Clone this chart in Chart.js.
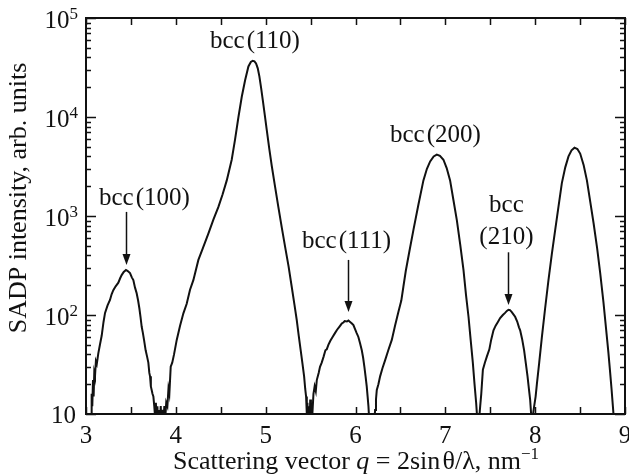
<!DOCTYPE html>
<html>
<head>
<meta charset="utf-8">
<script src="https://cdn.jsdelivr.net/npm/chart.js@4.4.1/dist/chart.umd.min.js"></script>
<style>
  html, body { margin: 0; padding: 0; background: #fff; }
  canvas { display: block; }
</style>
</head>
<body>
<canvas id="grafico" width="629" height="475"></canvas>
<script>
// scattering vector q, nm^-1
const qValues = [
  3.056, 3.063, 3.070, 3.078, 3.085, 3.092, 3.100, 3.110, 3.120, 3.137,
  3.155, 3.175, 3.195, 3.212, 3.240, 3.267, 3.285, 3.304, 3.330, 3.360,
  3.380, 3.397, 3.420, 3.445, 3.465, 3.490, 3.510, 3.527, 3.545, 3.564,
  3.580, 3.594, 3.607, 3.620, 3.633, 3.646, 3.664, 3.680, 3.694, 3.705,
  3.713, 3.722, 3.731, 3.740, 3.750, 3.760, 3.770, 3.778, 3.786, 3.795,
  3.804, 3.812, 3.822, 3.832, 3.842, 3.852, 3.862, 3.872, 3.882, 3.893,
  3.906, 3.918, 3.928, 3.943, 3.960, 3.980, 4.010, 4.047, 4.084, 4.121,
  4.158, 4.195, 4.251, 4.300, 4.362, 4.420, 4.474, 4.520, 4.567, 4.622,
  4.659, 4.697, 4.734, 4.771, 4.808, 4.835, 4.856, 4.875, 4.893, 4.912,
  4.930, 4.950, 4.968, 4.990, 5.012, 5.040, 5.068, 5.100, 5.141, 5.180,
  5.216, 5.255, 5.290, 5.320, 5.346, 5.368, 5.390, 5.410, 5.428, 5.440,
  5.450, 5.458, 5.465, 5.472, 5.480, 5.488, 5.496, 5.504, 5.512, 5.520,
  5.532, 5.545, 5.558, 5.569, 5.590, 5.605, 5.624, 5.645, 5.665, 5.680,
  5.698, 5.720, 5.745, 5.773, 5.795, 5.820, 5.847, 5.865, 5.880, 5.905,
  5.921, 5.940, 5.960, 5.977, 5.995, 6.012, 6.032, 6.050, 6.070, 6.085,
  6.099, 6.112, 6.125, 6.135, 6.144, 6.152, 6.165, 6.180, 6.195, 6.208,
  6.218, 6.228, 6.237, 6.255, 6.274, 6.300, 6.330, 6.365, 6.404, 6.440,
  6.478, 6.510, 6.533, 6.560, 6.600, 6.645, 6.700, 6.756, 6.795, 6.831,
  6.870, 6.905, 6.940, 6.979, 7.015, 7.053, 7.090, 7.128, 7.165, 7.202,
  7.230, 7.258, 7.282, 7.306, 7.325, 7.343, 7.355, 7.372, 7.388, 7.400,
  7.418, 7.440, 7.462, 7.490, 7.510, 7.536, 7.560, 7.585, 7.610, 7.640,
  7.665, 7.685, 7.703, 7.720, 7.740, 7.760, 7.777, 7.800, 7.820, 7.833,
  7.855, 7.877, 7.895, 7.915, 7.930, 7.944, 7.955, 7.970, 7.989, 8.005,
  8.019, 8.045, 8.075, 8.110, 8.148, 8.185, 8.223, 8.260, 8.297, 8.335,
  8.371, 8.405, 8.438, 8.470, 8.501, 8.540, 8.576, 8.613, 8.650, 8.690,
  8.724, 8.760, 8.791, 8.815, 8.835, 8.850, 8.865, 8.880
];

// SADP intensity, arb. units
const intensity = [
  9, 16, 12, 22, 15, 26, 24, 34, 32, 41,
  50, 62, 85, 105, 125, 142, 162, 178, 195, 212,
  235, 253, 272, 285, 278, 265, 240, 225, 190, 166,
  140, 117, 95, 76, 66, 56, 44, 38, 33, 26,
  24, 19, 17.5, 16, 15, 12, 9, 13, 8, 12,
  7, 11, 8, 12, 7, 11, 8, 12, 9, 13,
  12, 18, 16, 30, 33, 40, 56, 78, 104, 130,
  180, 225, 360, 470, 665, 930, 1235, 1650, 2290, 3700,
  5900, 10000, 16000, 23500, 32400, 36000, 37000, 36500, 34700, 31000,
  25700, 19500, 14800, 10500, 7400, 4800, 3200, 2100, 1235, 760,
  490, 310, 193, 128, 89, 62, 44, 32, 24, 18,
  15, 10, 13, 8, 12, 7, 14, 9, 12, 10,
  16, 19, 17, 22, 26, 30, 33, 38, 44, 45,
  50, 55, 60, 66, 71, 76, 82, 84, 87, 86,
  88, 85, 82, 79, 72, 66, 60, 52, 44, 37,
  30, 24, 19, 15, 12, 9, 8, 8, 9, 8,
  11, 14, 17.5, 20, 24, 29, 35, 44, 56, 78,
  108, 140, 193, 280, 440, 725, 1300, 2290, 3000, 3560,
  4000, 4170, 4050, 3700, 3050, 2290, 1450, 910, 520, 285,
  160, 96, 56, 33, 20, 13, 9, 8, 12, 16,
  28, 33, 38, 45, 56, 70, 78, 85, 93, 100,
  105, 110, 113, 112, 107, 101, 96, 86, 75, 70,
  57, 44, 33, 24, 18, 14, 10, 9, 12, 15,
  20, 33, 60, 115, 225, 410, 725, 1250, 2150, 3100,
  4000, 4600, 4900, 4750, 4270, 3250, 2290, 1400, 850, 470,
  265, 135, 70, 42, 26, 18, 12, 8
];

// tick labels
const xTickValues = [3, 4, 5, 6, 7, 8, 9];
const xMinorTicks = [3.5, 4.5, 5.5, 6.5, 7.5, 8.5];
const yDecades = [1, 2, 3, 4, 5];

// peak labels: text lines, centre q, baseline intensity of each line
const peakLabels = [['bcc\u200a(100)'], ['bcc\u200a(110)'], ['bcc\u200a(111)'], ['bcc\u200a(200)'], ['bcc', '(210)']];
const peakLabelQ = [3.65, 4.88, 5.90, 6.89, 7.68];
const peakLabelI = [[1290], [49800], [480], [5600], [1100, 520]];

// arrows: q position, tail intensity, head intensity
const arrowQ = [3.445, 5.918, 7.70];
const arrowFrom = [1100, 360, 430];
const arrowTo = [320, 107, 126];

const FONT = '"Liberation Serif", "Times New Roman", serif';
const ink = '#111';

const ejes = {
  id: 'ejes',
  afterDraw(chart) {
    const { ctx, chartArea: a, scales: { x, y } } = chart;
    ctx.save();
    ctx.strokeStyle = ink;
    ctx.fillStyle = ink;

    // frame
    ctx.lineWidth = 2;
    ctx.strokeRect(a.left, a.top, a.right - a.left, a.bottom - a.top);

    // inward ticks on all four sides
    ctx.lineWidth = 1.5;
    ctx.beginPath();
    xTickValues.concat(xMinorTicks).forEach(v => {
      const px = Math.round(x.getPixelForValue(v)) + 0.5;
      ctx.moveTo(px, a.bottom); ctx.lineTo(px, a.bottom - 7);
      ctx.moveTo(px, a.top); ctx.lineTo(px, a.top + 7);
    });
    yDecades.forEach(n => {
      for (let m = 1; m <= 9; m++) {
        const v = m * Math.pow(10, n);
        if (v > 1e5) break;
        const py = Math.round(y.getPixelForValue(v)) + 0.5;
        const len = m === 1 ? 10 : 5;
        ctx.moveTo(a.left, py); ctx.lineTo(a.left + len, py);
        ctx.moveTo(a.right, py); ctx.lineTo(a.right - len, py);
      }
    });
    ctx.stroke();

    // x tick labels
    ctx.font = '25px ' + FONT;
    ctx.textAlign = 'center';
    ctx.textBaseline = 'alphabetic';
    xTickValues.forEach(v => ctx.fillText(String(v), x.getPixelForValue(v), a.bottom + 29));

    // y tick labels, 10^n
    const right = a.left - 8;
    yDecades.forEach(n => {
      const py = y.getPixelForValue(Math.pow(10, n));
      ctx.textAlign = 'left';
      if (n === 1) {
        ctx.font = '25px ' + FONT;
        const w = ctx.measureText('10').width;
        ctx.fillText('10', right - 2 - w, py + 9);
      } else {
        ctx.font = '17px ' + FONT;
        const ew = ctx.measureText(String(n)).width;
        ctx.font = '25px ' + FONT;
        const bw = ctx.measureText('10').width;
        ctx.fillText('10', right - ew - bw, py + 10);
        ctx.font = '17px ' + FONT;
        ctx.fillText(String(n), right - ew, py + 1);
      }
    });

    // x axis title with italic q and superscript
    const parts = [
      ['Scattering vector ', '26px ', 0],
      ['q', 'italic 26px ', 0],
      [' = 2sin\u200a\u03b8/\u03bb, nm', '26px ', 0],
      ['\u22121', '17px ', -10]
    ];
    let total = 0;
    parts.forEach(p => { ctx.font = p[1] + FONT; total += ctx.measureText(p[0]).width; });
    let cx = 356 - total / 2;
    parts.forEach(p => {
      ctx.font = p[1] + FONT;
      ctx.fillText(p[0], cx, 469 + p[2]);
      cx += ctx.measureText(p[0]).width;
    });

    // y axis title
    ctx.save();
    ctx.translate(26, 198);
    ctx.rotate(-Math.PI / 2);
    ctx.font = '26px ' + FONT;
    ctx.textAlign = 'center';
    ctx.fillText('SADP intensity, arb. units', 0, 0);
    ctx.restore();

    // peak labels
    ctx.font = '25px ' + FONT;
    ctx.textAlign = 'center';
    peakLabels.forEach((lines, i) => {
      lines.forEach((t, j) => ctx.fillText(t, x.getPixelForValue(peakLabelQ[i]), y.getPixelForValue(peakLabelI[i][j])));
    });

    // arrows
    ctx.lineWidth = 1.5;
    arrowQ.forEach((q, i) => {
      const px = Math.round(x.getPixelForValue(q)) + 0.5;
      const y0 = y.getPixelForValue(arrowFrom[i]);
      const y1 = y.getPixelForValue(arrowTo[i]);
      ctx.beginPath();
      ctx.moveTo(px, y0); ctx.lineTo(px, y1 - 8);
      ctx.stroke();
      ctx.beginPath();
      ctx.moveTo(px, y1);
      ctx.lineTo(px - 4, y1 - 11);
      ctx.lineTo(px + 4, y1 - 11);
      ctx.closePath();
      ctx.fill();
    });
    ctx.restore();
  }
};

new Chart(document.getElementById('grafico'), {
  type: 'line',
  data: {
    datasets: [{
      data: qValues.map((q, i) => ({ x: q, y: intensity[i] })),
      borderColor: ink,
      borderWidth: 2,
      pointRadius: 0,
      tension: 0,
      fill: false
    }]
  },
  options: {
    responsive: false,
    devicePixelRatio: 1,
    animation: false,
    layout: { padding: { left: 86, right: 4, top: 18, bottom: 61 } },
    plugins: { legend: { display: false }, tooltip: { enabled: false } },
    scales: {
      x: { type: 'linear', min: 3, max: 9, display: false },
      y: { type: 'logarithmic', min: 10, max: 100000, display: false }
    }
  },
  plugins: [ejes]
});
</script>
</body>
</html>
